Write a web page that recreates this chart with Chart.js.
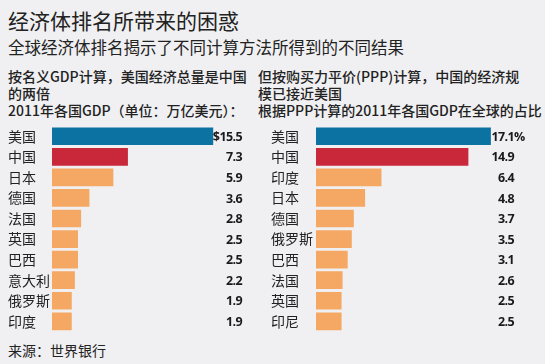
<!DOCTYPE html>
<html>
<head>
<meta charset="utf-8">
<script src="https://cdn.jsdelivr.net/npm/chart.js@4.4.0/dist/chart.umd.min.js"></script>
<style>
  html, body { margin: 0; padding: 0; }
  body {
    width: 545px; height: 364px; position: relative; overflow: hidden;
    background: #f0f0f2; color: #222;
    font-family: "Noto Sans CJK SC", "Noto Sans", sans-serif;
  }
  .t { position: absolute; white-space: nowrap; }
  #title { left: 8px; top: 6px; font-size: 21px; line-height: 28px; }
  #sub { left: 8px; top: 36px; font-size: 16.5px; line-height: 22px; }
  .head { top: 68px; font-size: 14px; line-height: 17px; font-weight: 500; }
  #headL { left: 8px; }
  #headR { left: 258px; }
  #source { left: 8px; top: 341px; font-size: 14px; line-height: 18px; }
  .box { position: absolute; top: 116px; height: 224px; }
  #boxL { left: 0; width: 270px; }
  #boxR { left: 270px; width: 275px; }
</style>
</head>
<body>
<div class="t" id="title">经济体排名所带来的困惑</div>
<div class="t" id="sub">全球经济体排名揭示了不同计算方法所得到的不同结果</div>
<div class="t head" id="headL">按名义GDP计算，美国经济总量是中国<br>的两倍<br>2011年各国GDP（单位：万亿美元）：</div>
<div class="t head" id="headR">但按购买力平价(PPP)计算，中国的经济规<br>模已接近美国<br>根据PPP计算的2011年各国GDP在全球的占比</div>
<div class="box" id="boxL"><canvas id="chartL"></canvas></div>
<div class="box" id="boxR"><canvas id="chartR"></canvas></div>
<div class="t" id="source">来源：世界银行</div>
<script>
// nominal GDP 2011, trillion USD
const gdpCountries = ['美国', '中国', '日本', '德国', '法国', '英国', '巴西', '意大利', '俄罗斯', '印度'];
const gdpValues = [15.5, 7.3, 5.9, 3.6, 2.8, 2.5, 2.5, 2.2, 1.9, 1.9];
const gdpLabels = ['$15.5', '7.3', '5.9', '3.6', '2.8', '2.5', '2.5', '2.2', '1.9', '1.9'];

// PPP share of world GDP 2011, %  (last two hidden by watermark in source, estimated)
const pppCountries = ['美国', '中国', '印度', '日本', '德国', '俄罗斯', '巴西', '法国', '英国', '印尼'];
const pppValues = [17.1, 14.9, 6.4, 4.8, 3.7, 3.5, 3.1, 2.6, 2.5, 2.5];
const pppLabels = ['17.1', '14.9', '6.4', '4.8', '3.7', '3.5', '3.1', '2.6', '2.5', '2.5'];

const BLUE = '#0b72a2';
const RED = '#c8283a';
const ORANGE = '#f5a863';

function barColors(n) {
  return Array.from({ length: n }, (_, i) => i == 0 ? BLUE : (i == 1 ? RED : ORANGE));
}

// draws the value column to the right of the bars
const valueLabels = {
  id: 'valueLabels',
  afterDatasetsDraw(chart, args, opts) {
    const ctx = chart.ctx;
    const meta = chart.getDatasetMeta(0);
    ctx.save();
    ctx.font = 'bold 12.5px "Open Sans", "DejaVu Sans", sans-serif';
    ctx.letterSpacing = '-0.6px';
    ctx.fillStyle = '#1a1a1a';
    ctx.textBaseline = 'middle';
    meta.data.forEach((bar, i) => {
      ctx.textAlign = 'right';
      ctx.fillText(opts.labels[i], opts.x, bar.y + 1);
      if (i == 0 && opts.suffix) {
        ctx.textAlign = 'left';
        ctx.fillText(opts.suffix, opts.x, bar.y + 1);
      }
    });
    ctx.restore();
  }
};

function makeChart(id, labels, values, texts, max, pad, yWidth, valueX, suffix) {
  return new Chart(document.getElementById(id), {
    type: 'bar',
    data: {
      labels: labels,
      datasets: [{
        data: values,
        backgroundColor: barColors(values.length),
        borderWidth: 0,
        barPercentage: 0.86,
        categoryPercentage: 1
      }]
    },
    options: {
      indexAxis: 'y',
      responsive: true,
      maintainAspectRatio: false,
      animation: false,
      layout: { padding: pad },
      scales: {
        x: { display: false, min: 0, max: max },
        y: {
          grid: { display: false, drawTicks: false },
          border: { display: false },
          ticks: {
            crossAlign: 'far',
            padding: 0,
            color: '#222',
            font: { family: '"Noto Sans CJK SC", sans-serif', size: 14 }
          },
          afterFit(scale) { scale.width = yWidth; }
        }
      },
      plugins: {
        legend: { display: false },
        tooltip: { enabled: false },
        valueLabels: { labels: texts, x: valueX, suffix: suffix }
      }
    },
    plugins: [valueLabels]
  });
}

makeChart('chartL', gdpCountries, gdpValues, gdpLabels, 20,
  { left: 8, right: 10, top: 10, bottom: 4 }, 44, 242, '');
makeChart('chartR', pppCountries, pppValues, pppLabels, 22,
  { left: 1, right: 4, top: 10, bottom: 4 }, 45, 244, '%');
</script>
</body>
</html>
